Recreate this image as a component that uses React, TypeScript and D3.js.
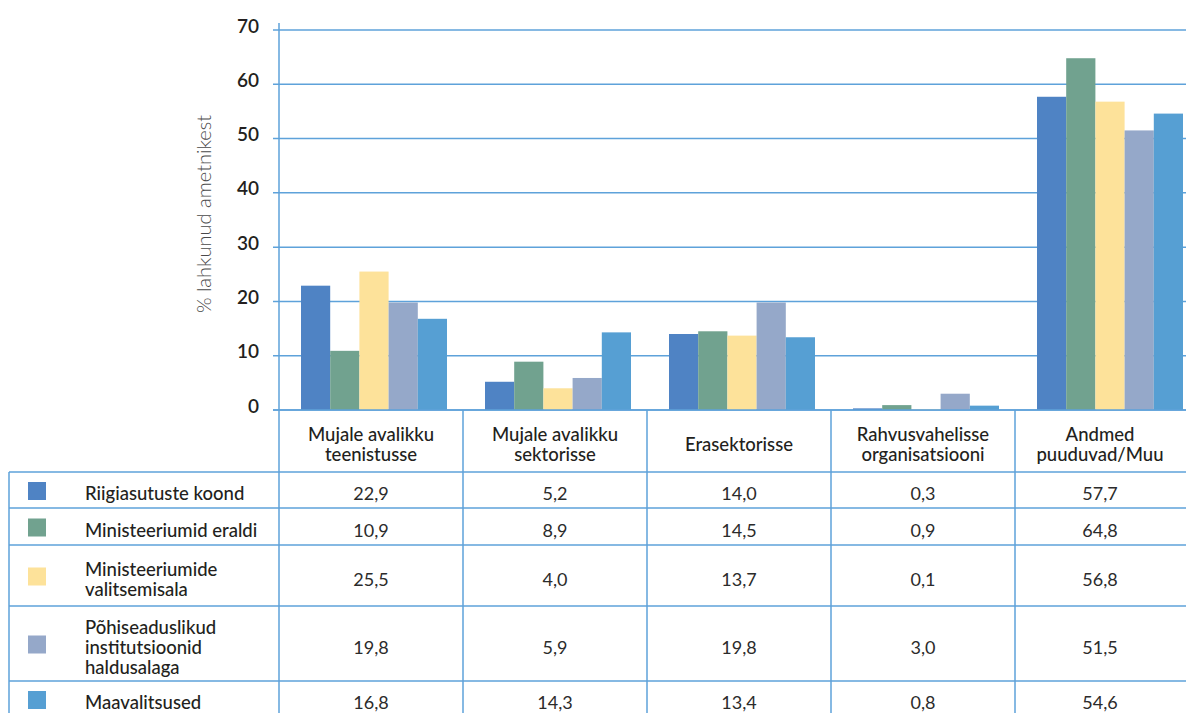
import React from "react";
import * as d3 from "d3";

// Destinations of departing officials (table columns / bar groups)
const categories = [
  "Mujale avalikku\nteenistusse",
  "Mujale avalikku\nsektorisse",
  "Erasektorisse",
  "Rahvusvahelisse\norganisatsiooni",
  "Andmed\npuuduvad/Muu",
];

// Institution groups (legend rows)
const seriesNames = [
  "Riigiasutuste koond",
  "Ministeeriumid eraldi",
  "Ministeeriumide\nvalitsemisala",
  "Põhiseaduslikud\ninstitutsioonid\nhaldusalaga",
  "Maavalitsused",
];

// Share of departed officials, %
const riigiasutusteKoond = [22.9, 5.2, 14.0, 0.3, 57.7];
const ministeeriumidEraldi = [10.9, 8.9, 14.5, 0.9, 64.8];
const ministeeriumideValitsemisala = [25.5, 4.0, 13.7, 0.1, 56.8];
const pohiseaduslikudInstitutsioonid = [19.8, 5.9, 19.8, 3.0, 51.5];
const maavalitsused = [16.8, 14.3, 13.4, 0.8, 54.6];

const seriesValues = [
  riigiasutusteKoond,
  ministeeriumidEraldi,
  ministeeriumideValitsemisala,
  pohiseaduslikudInstitutsioonid,
  maavalitsused,
];

const yTicks = [0, 10, 20, 30, 40, 50, 60, 70];
const yTitle = "% lahkunud ametnikest";

const colors = ["#4f83c4", "#71a28f", "#fde29a", "#95a8c9", "#569fd3"];

const W = 1186;
const H = 713;
const FONT = "Lato, 'Open Sans', sans-serif";
const LINE = "#5ea2da";
const TEXT = "#231f20";

export default function App() {
  const plotLeft = 279;
  const colW = 184;
  const baseY = 410;
  const topY = 30;

  const x0 = d3
    .scaleBand<string>()
    .domain(categories)
    .range([plotLeft, plotLeft + colW * categories.length])
    .padding(0);

  const x1 = d3
    .scaleBand<string>()
    .domain(seriesNames)
    .range([22, 168])
    .padding(0);

  const y = d3.scaleLinear().domain([0, 70]).range([baseY, topY]);

  // table layout
  const headerBottom = 472;
  const rowHeights = [36, 37, 61, 75, 36];
  const rowTops: number[] = [];
  let acc = headerBottom;
  rowHeights.forEach((h) => {
    rowTops.push(acc);
    acc += h;
  });
  const colCenters = categories.map((c, i) =>
    i === categories.length - 1 ? 1100 : (x0(c) as number) + colW / 2
  );
  const colEdges = categories.map((c) => x0(c) as number);

  return (
    <svg
      width={W}
      height={H}
      style={{ position: "absolute", left: 0, top: 0, background: "#fff" }}
      fontFamily={FONT}
    >
      {/* gridlines */}
      {yTicks.map((t) => (
        <line
          key={"g" + t}
          x1={plotLeft - 6}
          x2={W}
          y1={y(t)}
          y2={y(t)}
          stroke={LINE}
          strokeWidth={1.5}
        />
      ))}
      {/* y tick labels */}
      {yTicks.map((t) => (
        <text
          key={"t" + t}
          x={259}
          y={y(t) - 5}
          textAnchor="end"
          dominantBaseline="central"
          fontSize={19}
          fontWeight={600}
          fill={TEXT}
        >
          {t}
        </text>
      ))}
      <text
        transform={`translate(203,214) rotate(-90)`}
        textAnchor="middle"
        dominantBaseline="central"
        fontSize={20}
        fontWeight={300}
        fill="#4a4a4a"
      >
        {yTitle}
      </text>

      {/* bars */}
      {categories.map((c, ci) => (
        <g key={"bg" + ci} transform={`translate(${x0(c)},0)`}>
          {seriesNames.map((s, si) => {
            const v = seriesValues[si][ci];
            return (
              <rect
                key={s}
                x={x1(s) as number}
                width={x1.bandwidth()}
                y={y(v)}
                height={baseY - y(v)}
                fill={colors[si]}
              />
            );
          })}
        </g>
      ))}

      {/* baseline redrawn over bars */}
      <line x1={plotLeft - 6} x2={W} y1={baseY} y2={baseY} stroke={LINE} strokeWidth={1.5} />

      {/* table horizontal lines */}
      {rowTops.map((ty, i) => (
        <line key={"h" + i} x1={9} x2={W} y1={ty} y2={ty} stroke={LINE} strokeWidth={1.5} />
      ))}
      {/* table left border */}
      <line x1={9} x2={9} y1={headerBottom} y2={H} stroke={LINE} strokeWidth={1.5} />
      {/* y axis line */}
      <line x1={plotLeft} x2={plotLeft} y1={23} y2={H} stroke={LINE} strokeWidth={1.5} />
      {/* column separators */}
      {colEdges.slice(1).map((ex, i) => (
        <line key={"v" + i} x1={ex} x2={ex} y1={baseY} y2={H} stroke={LINE} strokeWidth={1.5} />
      ))}

      {/* header labels */}
      {categories.map((c, ci) => {
        const lines = c.split("\n");
        const cy = (baseY + headerBottom) / 2 + 3;
        const start = cy - ((lines.length - 1) * 20) / 2;
        return (
          <text
            key={"hd" + ci}
            textAnchor="middle"
            fontSize={18.5}
            fontWeight={500}
            fill={TEXT}
          >
            {lines.map((l, li) => (
              <tspan
                key={li}
                x={colCenters[ci]}
                y={start + li * 20}
                dominantBaseline="central"
              >
                {l}
              </tspan>
            ))}
          </text>
        );
      })}

      {/* legend rows and values */}
      {seriesNames.map((s, si) => {
        const top = rowTops[si];
        const cy = top + rowHeights[si] / 2 + 1;
        const lines = s.split("\n");
        const start = cy + 2 - ((lines.length - 1) * 20) / 2;
        return (
          <g key={"r" + si}>
            <rect x={28} y={cy - 9} width={18} height={18} fill={colors[si]} />
            <text fontSize={18.5} fontWeight={500} fill={TEXT}>
              {lines.map((l, li) => (
                <tspan key={li} x={85} y={start + li * 20} dominantBaseline="central">
                  {l}
                </tspan>
              ))}
            </text>
            {seriesValues[si].map((v, ci) => (
              <text
                key={ci}
                x={colCenters[ci]}
                y={cy + 2}
                textAnchor="middle"
                dominantBaseline="central"
                fontSize={18}
                fill="#2b2b2b"
              >
                {d3.format(".1f")(v).replace(".", ",")}
              </text>
            ))}
          </g>
        );
      })}
    </svg>
  );
}
